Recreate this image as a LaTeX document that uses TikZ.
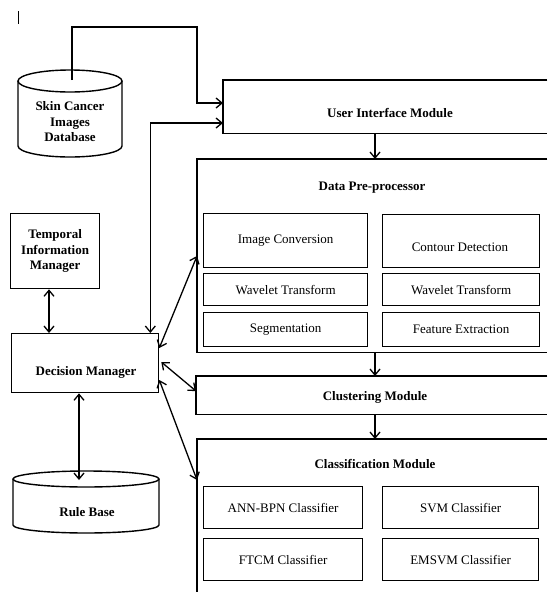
\documentclass[tikz,border=0pt]{standalone}
\usepackage{fontspec}
\setmainfont{Liberation Serif}
\usetikzlibrary{arrows.meta}
\begin{document}
\begin{tikzpicture}[x=1pt,y=1pt,
  font=\fontsize{13}{15.5}\selectfont,
  edge/.style={line width=1.4pt, line join=miter},
  cont/.style={draw=none, inner sep=0pt, anchor=north west},
  sub/.style={draw, line width=1.3pt, inner sep=0pt, anchor=north west, align=center},
  ttl/.style={font=\fontsize{13}{15.5}\selectfont\bfseries, align=center, inner sep=1pt},
  txt/.style={font=\fontsize{13}{15.5}\selectfont, align=center, inner sep=1pt},
  arr/.style={-{Straight Barb[length=6pt,width=10pt]}, line width=1.3pt},
  arrb/.style={{Straight Barb[length=6pt,width=10pt]}-{Straight Barb[length=6pt,width=10pt]}, line width=1.3pt}
]
\useasboundingbox (0,0) rectangle (547,-592);

% stray mark
\draw[line width=0.8pt] (18,-11) -- (18,-24);

% ---------- Skin Cancer Images Database (cylinder)
\draw[edge] (18,-81) -- (18,-146) arc[start angle=180,end angle=360,x radius=52pt,y radius=11pt] -- (122,-81);
\draw[edge] (70,-81) ellipse[x radius=52pt,y radius=11pt];
\node[ttl] (db) at (70,-122) {Skin Cancer\\Images\\Database};
\coordinate (dbtop) at (72,-80);

% ---------- Rule Base (cylinder)
\draw[edge] (13,-479) -- (13,-525) arc[start angle=180,end angle=360,x radius=73pt,y radius=8pt] -- (159,-479);
\draw[edge] (86,-479) ellipse[x radius=73pt,y radius=8pt];
\node[ttl] (rb) at (87,-512) {Rule Base};
\coordinate (rbtop) at (79,-480);

% ---------- Temporal Information Manager
\node[sub, minimum width=89pt, minimum height=75pt, font=\fontsize{13}{15.5}\selectfont\bfseries] (tim) at (10,-213) {Temporal\\Information\\Manager};

% ---------- Decision Manager
\node[sub, minimum width=147pt, minimum height=59pt] (dm) at (11,-333) {};
\node[ttl] (dmt) at (86,-372) {Decision Manager};

% ---------- User Interface Module
\node[cont, minimum width=324pt, minimum height=53pt] (ui) at (223,-80) {};
\draw[edge] (ui.north east) -- (ui.north west) -- (ui.south west) -- (ui.south east);
\node[ttl] (uit) at (390,-113) {User Interface Module};

% ---------- Data Pre-processor
\node[cont, minimum width=350pt, minimum height=193pt] (dp) at (197,-159) {};
\draw[edge] (dp.north east) -- (dp.north west) -- (dp.south west) -- (dp.south east);
\node[ttl] (dpt) at (372,-188) {Data Pre-processor};
\node[sub, minimum width=164pt, minimum height=54pt] (ic) at (203,-213) {Image Conversion};
\node[sub, minimum width=157pt, minimum height=53pt] (cd) at (382,-214) {};
\node[txt] (cdt) at (460,-247) {Contour Detection};
\node[sub, minimum width=164pt, minimum height=32pt] (wt1) at (203,-273) {Wavelet Transform};
\node[sub, minimum width=157pt, minimum height=32pt] (wt2) at (382,-273) {Wavelet Transform};
\node[sub, minimum width=164pt, minimum height=34pt] (seg) at (203,-312) {Segmentation};
\node[sub, minimum width=157pt, minimum height=34pt] (fe) at (382,-312) {Feature Extraction};

% ---------- Clustering Module
\node[cont, minimum width=351pt, minimum height=38pt] (cl) at (196,-376) {};
\draw[edge] (cl.north east) -- (cl.north west) -- (cl.south west) -- (cl.south east);
\node[ttl] (clt) at (375,-397) {Clustering Module};

% ---------- Classification Module
\node[cont, minimum width=350pt, minimum height=153pt] (cf) at (197,-439) {};
\draw[edge] (cf.north east) -- (cf.north west) -- (cf.south west);
\node[ttl] (cft) at (375,-464) {Classification Module};
\node[sub, minimum width=159pt, minimum height=42pt] (ann) at (203,-486) {ANN-BPN Classifier};
\node[sub, minimum width=156pt, minimum height=42pt] (svm) at (382,-486) {SVM Classifier};
\node[sub, minimum width=159pt, minimum height=42pt] (ftcm) at (203,-538) {FTCM Classifier};
\node[sub, minimum width=156pt, minimum height=42pt] (emsvm) at (382,-538) {EMSVM Classifier};

% ---------- helper coordinates
\coordinate (cx) at (375,0);
\coordinate (xt) at (49,0);
\coordinate (xr) at (79,0);

% ---------- connectors
\draw[arr] (dbtop) |- (197,-27) |- ([yshift=-23pt]ui.north west);
\draw[arrb] ([xshift=-9pt]dm.north east) |- ([yshift=-43pt]ui.north west);
\draw[arr] (ui.south -| cx) -- (dp.north -| cx);
\draw[arr] (dp.south -| cx) -- (cl.north -| cx);
\draw[arr] (cl.south -| cx) -- (cf.north -| cx);
\draw[arrb] (tim.south -| xt) -- (dm.north -| xt);
\draw[arrb] (dm.south -| xr) -- (rbtop);
\draw[arrb] ([yshift=-15pt]dm.north east) -- ([yshift=-97pt]dp.north west);
\draw[arrb] ([xshift=2pt,yshift=-29pt]dm.north east) -- ([yshift=-15pt]cl.north west);
\draw[arrb] ([yshift=-47pt]dm.north east) -- ([yshift=-41pt]cf.north west);
\end{tikzpicture}
\end{document}
